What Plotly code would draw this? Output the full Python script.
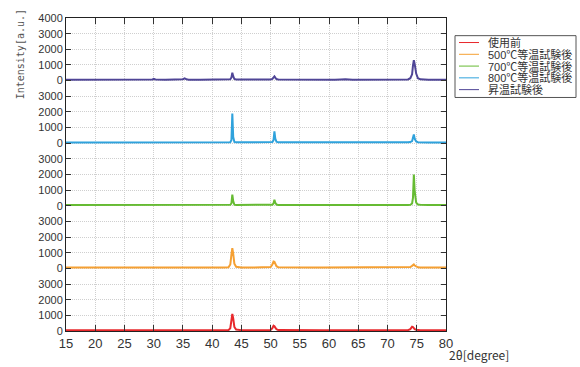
import plotly.graph_objects as go

# 2theta sample positions (degree)
two_theta = [15, 17, 19, 21, 23, 25, 27, 29, 29.8, 30.0,
             30.3, 32, 33.0, 33.3, 33.6, 35.0, 35.3, 35.6, 36, 38,
             40, 42, 42.8, 43.1, 43.3, 43.45, 43.6, 43.8, 44.1, 45,
             47, 49, 50.0, 50.3, 50.5, 50.65, 50.8, 51.0, 51.3, 53,
             55, 56.5, 56.8, 57.1, 59, 61, 62.0, 62.4, 62.8, 64,
             66, 68, 70, 72, 73.5, 73.9, 74.2, 74.35, 74.5, 74.65,
             74.9, 75.2, 75.6, 77, 79, 80]

series_names = ["使用前", "500℃等温試験後", "700℃等温試験後", "800℃等温試験後", "昇温試験後"]

int_before = [45, 42, 44, 46, 43, 45, 44, 46, 45, 47,
              45, 44, 45, 46, 44, 46, 48, 45, 44, 45,
              46, 48, 60, 180, 700, 1090, 800, 260, 90, 55,
              48, 50, 70, 180, 340, 300, 200, 110, 60, 48,
              46, 45, 46, 45, 46, 45, 46, 47, 45, 46,
              45, 46, 45, 47, 55, 120, 270, 250, 180, 120,
              80, 60, 50, 46, 45, 44]

int_500 = [55, 52, 54, 56, 53, 55, 54, 56, 55, 57,
           55, 54, 56, 55, 54, 57, 58, 55, 54, 55,
           56, 58, 70, 250, 900, 1300, 950, 300, 100, 62,
           58, 60, 90, 250, 440, 420, 280, 140, 75, 58,
           56, 55, 57, 55, 56, 55, 57, 58, 55, 56,
           55, 56, 55, 57, 62, 90, 160, 230, 250, 180,
           110, 70, 60, 56, 55, 54]

int_700 = [50, 48, 50, 52, 49, 50, 51, 50, 52, 55,
           51, 50, 52, 51, 50, 55, 60, 52, 50, 51,
           52, 50, 52, 60, 150, 720, 300, 70, 54, 50,
           51, 52, 55, 70, 150, 380, 200, 80, 55, 52,
           50, 51, 52, 50, 51, 50, 52, 53, 51, 50,
           51, 50, 52, 51, 55, 70, 150, 500, 2000, 900,
           200, 80, 60, 52, 50, 49]

int_800 = [50, 52, 60, 55, 50, 51, 50, 52, 60, 70,
           55, 52, 55, 58, 52, 60, 75, 55, 52, 50,
           51, 52, 55, 65, 200, 1900, 400, 80, 55, 52,
           50, 52, 55, 70, 200, 760, 300, 90, 55, 52,
           50, 58, 60, 52, 51, 50, 52, 53, 51, 50,
           51, 50, 52, 51, 55, 70, 130, 350, 560, 280,
           110, 65, 55, 52, 50, 49]

int_ramp = [55, 58, 56, 60, 57, 62, 58, 60, 75, 110,
            70, 60, 85, 105, 75, 90, 140, 80, 62, 58,
            57, 60, 65, 90, 200, 500, 280, 100, 65, 58,
            56, 58, 65, 110, 220, 270, 190, 100, 65, 58,
            57, 56, 90, 70, 58, 60, 75, 100, 80, 60,
            58, 57, 56, 58, 70, 150, 400, 950, 1300, 1050,
            450, 150, 80, 60, 57, 56]

intensities = [int_before, int_500, int_700, int_800, int_ramp]
band_tick_labels = ["0", "1000", "2000", "3000"]
top_tick_label = "4000"
x_ticks = [15, 20, 25, 30, 35, 40, 45, 50, 55, 60, 65, 70, 75, 80]

colors = ["#e8282c", "#f5a033", "#66bb33", "#2fa2dc", "#4f4596"]
BAND = 4000

# plot area in pixels
L, R, T, B = 66, 446, 12, 331
W_AREA, H_AREA = R - L, B - T


def px(xp):
    return (xp - L) / W_AREA


def py(yp):
    return (B - yp) / H_AREA


fig = go.Figure()
for i, (name, ys) in enumerate(zip(series_names, intensities)):
    fig.add_trace(go.Scatter(
        x=two_theta, y=[v + BAND * i for v in ys], mode="lines", name=name,
        line=dict(color=colors[i], width=2), showlegend=False))

n_bands = len(series_names)
tickvals = list(range(0, BAND * n_bands + 1, 1000))
ticktext = []
for i in range(n_bands):
    ticktext += band_tick_labels
ticktext.append(top_tick_label)

fig.update_layout(
    width=580, height=367,
    margin=dict(l=L, r=580 - R, t=T, b=367 - B),
    paper_bgcolor="white", plot_bgcolor="white",
    xaxis=dict(range=[15, 80], tickvals=x_ticks, showgrid=True,
               gridcolor="#cfcfcf", griddash="1px,1px", gridwidth=1,
               showline=True, linecolor="#222", linewidth=1, mirror="ticks",
               ticks="inside", ticklen=6, tickcolor="#333",
               tickfont=dict(family="Liberation Sans Narrow, Liberation Sans, sans-serif", size=13, color="#333"),
               zeroline=False),
    yaxis=dict(range=[0, BAND * n_bands], tickvals=tickvals, ticktext=ticktext,
               showgrid=True, gridcolor="#cfcfcf", griddash="1px,1px", gridwidth=1,
               showline=True, linecolor="#222", linewidth=1, mirror="ticks",
               ticks="inside", ticklen=5, tickcolor="#333",
               tickfont=dict(family="Liberation Sans, sans-serif", size=11, color="#333"),
               zeroline=False),
)

# axis titles
fig.add_annotation(text="Intensity[a.u.]", xref="paper", yref="paper",
                   x=px(20), y=py(49), xanchor="center", yanchor="middle",
                   textangle=-90, showarrow=False,
                   font=dict(family="DejaVu Sans Mono, monospace", size=10, color="#555"))
fig.add_annotation(text="2θ[degree]", xref="paper", yref="paper",
                   x=px(447), y=py(355), xanchor="left", yanchor="middle", showarrow=False,
                   font=dict(family="Noto Sans CJK JP, sans-serif", size=12, color="#333"))

# legend box
fig.add_shape(type="rect", xref="paper", yref="paper",
              x0=px(455), x1=px(576), y0=py(30), y1=py(93),
              line=dict(color="#555", width=1), fillcolor="white")
row_y = [37, 49, 61, 73, 85]
for i, name in enumerate(series_names):
    fig.add_shape(type="line", xref="paper", yref="paper",
                  x0=px(459), x1=px(479), y0=py(row_y[i]), y1=py(row_y[i]),
                  line=dict(color=colors[i], width=1))
    fig.add_annotation(text=name, xref="paper", yref="paper",
                       x=px(486), y=py(row_y[i]), xanchor="left", yanchor="middle",
                       showarrow=False,
                       font=dict(family="Liberation Sans, Noto Sans CJK JP, sans-serif", size=11, color="#333"))

fig.write_html("out.html", post_script="document.body.style.margin='0';",
               config={"displayModeBar": False})
